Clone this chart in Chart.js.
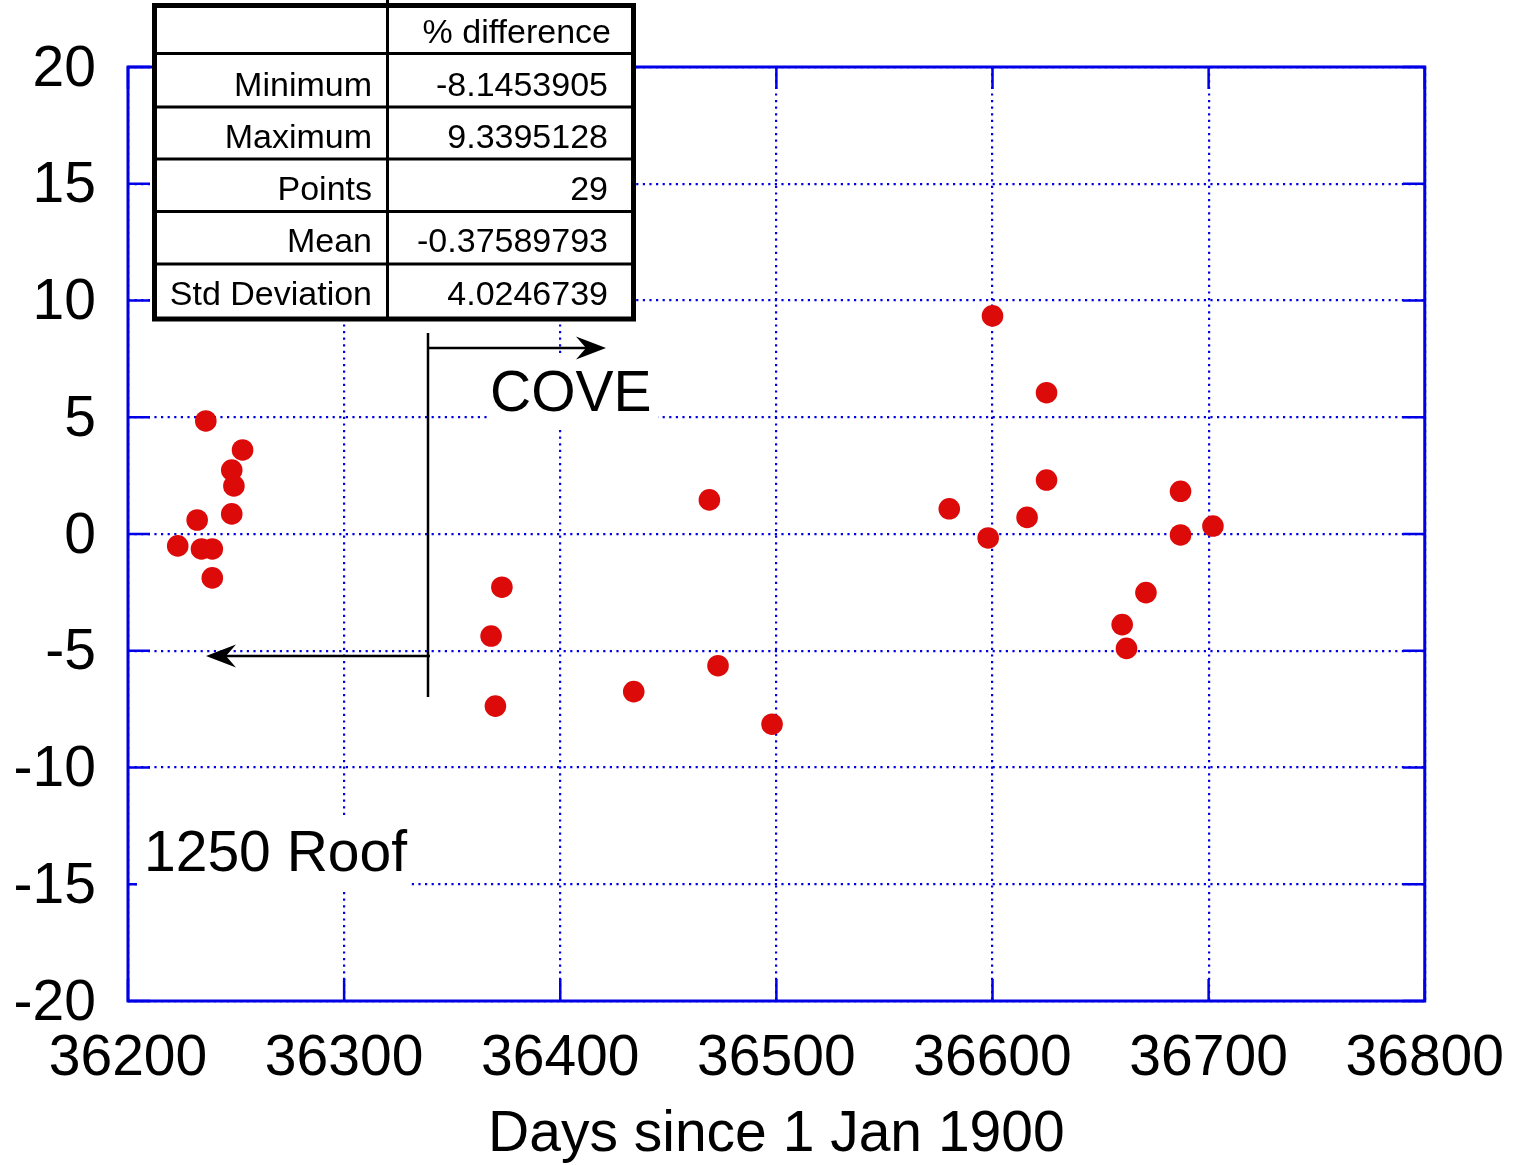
<!DOCTYPE html>
<html>
<head>
<meta charset="utf-8">
<script src="https://cdn.jsdelivr.net/npm/chart.js@4.4.1/dist/chart.umd.min.js"></script>
<style>
  html, body { margin: 0; padding: 0; background: #fff; }
  canvas { display: block; }
</style>
</head>
<body>
<canvas id="graficoDif" width="1528" height="1165"></canvas>
<script>
// datos
const dias = [
    36223, 36232, 36236, 36234, 36239, 36239, 36248, 36249, 36248, 36253,
    36373, 36368, 36370, 36469, 36434, 36473, 36498,
    36600, 36625, 36625, 36580, 36616, 36598, 36687, 36687, 36702, 36671, 36660, 36662,
];
const diferencias = [
    -0.51, 0.6, 4.84, -0.64, -0.64, -1.88, 2.74, 2.06, 0.86, 3.6,
    -2.28, -4.37, -7.37, 1.46, -6.75, -5.64, -8.1453905,
    9.3395128, 6.05, 2.31, 1.08, 0.71, -0.17, 1.83, -0.04, 0.34, -2.51, -3.88, -4.9,
];
const xTicks = [36200, 36300, 36400, 36500, 36600, 36700, 36800];
const yTicks = [-20, -15, -10, -5, 0, 5, 10, 15, 20];

const tablaEncabezado = "% difference";
const tablaNombres = ["Minimum", "Maximum", "Points", "Mean", "Std Deviation"];
const tablaValores = ["-8.1453905", "9.3395128", "29", "-0.37589793", "4.0246739"];

const tituloX = "Days since 1 Jan 1900";
const etiquetaCove = "COVE";
const etiquetaRoof = "1250 Roof";

const AZUL = "#0000e6";
const ROJO = "#dd0a0a";
const FUENTE = "'Liberation Sans', Arial, sans-serif";

const puntos = dias.map((d, i) => ({ x: d, y: diferencias[i] }));

const flecha = (ctx, x0, x1, y) => {
    const dir = Math.sign(x1 - x0);
    ctx.beginPath();
    ctx.moveTo(x0, y);
    ctx.lineTo(x1 - dir * 10, y);
    ctx.stroke();
    ctx.beginPath();
    ctx.moveTo(x1, y);
    ctx.lineTo(x1 - dir * 30, y - 11.5);
    ctx.lineTo(x1 - dir * 20, y);
    ctx.lineTo(x1 - dir * 30, y + 11.5);
    ctx.closePath();
    ctx.fill();
};

const marcoPlugin = {
    id: "marco",
    beforeDatasetsDraw(chart) {
        const { ctx, chartArea: a, scales } = chart;
        ctx.save();
        ctx.strokeStyle = AZUL;
        ctx.lineWidth = 3;
        ctx.strokeRect(a.left, a.top, a.right - a.left, a.bottom - a.top);
        // marcas hacia adentro
        const largo = 22;
        ctx.lineWidth = 2.5;
        ctx.beginPath();
        scales.x.ticks.forEach((t) => {
            const px = scales.x.getPixelForValue(t.value);
            ctx.moveTo(px, a.bottom);
            ctx.lineTo(px, a.bottom - largo);
            ctx.moveTo(px, a.top);
            ctx.lineTo(px, a.top + largo);
        });
        scales.y.ticks.forEach((t) => {
            const py = scales.y.getPixelForValue(t.value);
            ctx.moveTo(a.left, py);
            ctx.lineTo(a.left + largo, py);
            ctx.moveTo(a.right, py);
            ctx.lineTo(a.right - largo, py);
        });
        ctx.stroke();
        // fondos blancos de las etiquetas
        ctx.fillStyle = "#fff";
        ctx.fillRect(487, 357, 171, 73);
        ctx.fillRect(137, 815, 272, 77);
        ctx.restore();
    },
    afterDraw(chart) {
        const { ctx } = chart;
        ctx.save();
        // etiquetas
        ctx.fillStyle = "#000";
        ctx.font = `57px ${FUENTE}`;
        ctx.textAlign = "left";
        ctx.textBaseline = "alphabetic";
        ctx.fillText(etiquetaCove, 490, 411);
        ctx.fillText(etiquetaRoof, 144, 871);

        // separador y flechas
        ctx.strokeStyle = "#000";
        ctx.lineWidth = 2.5;
        ctx.beginPath();
        ctx.moveTo(428, 333);
        ctx.lineTo(428, 697);
        ctx.stroke();
        flecha(ctx, 428, 606, 348);
        flecha(ctx, 430, 206, 656);

        // tabla
        ctx.fillStyle = "#fff";
        ctx.fillRect(152, 3, 484, 319);
        ctx.lineWidth = 3;
        ctx.beginPath();
        ctx.moveTo(387.5, 0);
        ctx.lineTo(387.5, 320);
        [53.5, 107, 159, 211.5, 264].forEach((y) => {
            ctx.moveTo(152, y);
            ctx.lineTo(636, y);
        });
        ctx.stroke();
        ctx.lineWidth = 5;
        ctx.strokeRect(154.5, 5.5, 479, 313.5);

        ctx.fillStyle = "#000";
        ctx.font = `34px ${FUENTE}`;
        ctx.textAlign = "right";
        ctx.fillText(tablaEncabezado, 611, 43);
        const bases = [96, 148, 200, 252, 305];
        tablaNombres.forEach((n, i) => {
            ctx.fillText(n, 372, bases[i]);
            ctx.fillText(tablaValores[i], 608, bases[i]);
        });
        ctx.restore();
    },
};

const ctx1 = document.getElementById("graficoDif").getContext("2d");

new Chart(ctx1, {
    type: "scatter",
    data: {
        datasets: [
            {
                data: puntos,
                backgroundColor: ROJO,
                borderColor: ROJO,
                borderWidth: 0,
                pointRadius: 10.8,
                pointHoverRadius: 10.8,
            },
        ],
    },
    options: {
        responsive: false,
        animation: false,
        events: [],
        layout: { padding: { top: 67, right: 103, left: 0, bottom: 0 } },
        plugins: {
            legend: { display: false },
            tooltip: { enabled: false },
        },
        scales: {
            x: {
                type: "linear",
                min: xTicks[0],
                max: xTicks[xTicks.length - 1],
                afterBuildTicks: (s) => {
                    s.ticks = xTicks.map((v) => ({ value: v }));
                },
                afterFit: (s) => {
                    s.height = 164;
                },
                ticks: {
                    color: "#000",
                    font: { family: FUENTE, size: 57 },
                    padding: 24,
                    maxRotation: 0,
                    autoSkip: false,
                    callback: (v) => String(v),
                },
                grid: { color: AZUL, lineWidth: 2.2, drawTicks: false },
                border: { display: false, dash: [2.2, 4.4] },
                title: {
                    display: true,
                    text: tituloX,
                    color: "#000",
                    font: { family: FUENTE, size: 57, lineHeight: 1.05 },
                    padding: 0,
                },
            },
            y: {
                type: "linear",
                min: yTicks[0],
                max: yTicks[yTicks.length - 1],
                afterBuildTicks: (s) => {
                    s.ticks = yTicks.map((v) => ({ value: v }));
                },
                afterFit: (s) => {
                    s.width = 128;
                },
                ticks: {
                    color: "#000",
                    font: { family: FUENTE, size: 57 },
                    padding: 32,
                    labelOffset: 3,
                    autoSkip: false,
                    callback: (v) => String(v),
                },
                grid: { color: AZUL, lineWidth: 2.2, drawTicks: false },
                border: { display: false, dash: [2.2, 4.4] },
            },
        },
    },
    plugins: [marcoPlugin],
});
</script>
</body>
</html>
